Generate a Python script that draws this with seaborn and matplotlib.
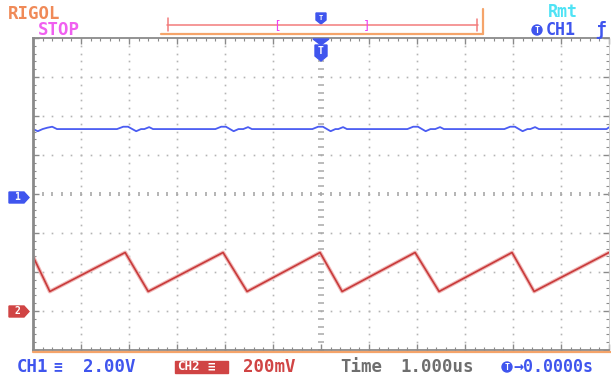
import numpy as np
import pandas as pd
import matplotlib
matplotlib.use("Agg")
import matplotlib.pyplot as plt
from matplotlib.patches import Polygon, Rectangle, Circle
import seaborn as sns

# CH1: flat level with small glitches at CH2 transitions (time in us, volts)
ch1_t = [-6.0, -5.9, -5.8, -5.7, -5.6, -5.5,
         -4.25, -4.12, -4.02, -3.85, -3.75, -3.68, -3.58, -3.5,
         -2.2, -2.08, -1.98, -1.82, -1.72, -1.62, -1.52, -1.44,
         -0.18, -0.06, 0.04, 0.2, 0.3, 0.36, 0.46, 0.54,
         1.8, 1.92, 2.02, 2.18, 2.28, 2.38, 2.48, 2.56,
         3.82, 3.94, 4.04, 4.2, 4.3, 4.36, 4.46, 4.54,
         5.95, 6.0]
ch1_v = [3.33, 3.22, 3.33, 3.40, 3.45, 3.33,
         3.33, 3.45, 3.45, 3.22, 3.33, 3.33, 3.43, 3.33,
         3.33, 3.45, 3.45, 3.22, 3.33, 3.33, 3.43, 3.33,
         3.33, 3.45, 3.45, 3.22, 3.33, 3.33, 3.43, 3.33,
         3.33, 3.45, 3.45, 3.22, 3.33, 3.33, 3.43, 3.33,
         3.33, 3.45, 3.45, 3.22, 3.33, 3.33, 3.43, 3.33,
         3.33, 3.42]
# CH2: sawtooth (time in us, volts)
ch2_t = [-6.0, -5.65, -4.08, -3.60, -2.04, -1.54, -0.02, 0.44, 1.96, 2.46, 3.98, 4.44, 6.0]
ch2_v = [0.28, 0.10, 0.30, 0.10, 0.30, 0.10, 0.30, 0.10, 0.30, 0.10, 0.30, 0.10, 0.30]

ch1_scale, ch1_offset = 2.0, 0.0     # V/div, div
ch2_scale, ch2_offset = 0.2, -3.0

# labels
brand, state, remote = "RIGOL", "STOP", "Rmt"
trig_src = "CH1"
ch1_label, ch1_volts = "CH1", "2.00V"
ch2_label, ch2_volts = "CH2", "200mV"
time_label, time_base = "Time", "1.000us"
trig_pos = "→0.0000s"

# ---------------- figure ----------------
sns.set_style("white")
plt.rcParams['font.family'] = ['DejaVu Sans Mono', 'DejaVu Sans']
W, H = 611, 379
fig = plt.figure(figsize=(W / 100, H / 100), dpi=100)
fig.patch.set_facecolor("white")

L, R, T, B = 33, 609, 38, 350
ax = fig.add_axes([L / W, 1 - B / H, (R - L) / W, (B - T) / H])
ax.set_xlim(-6, 6)
ax.set_ylim(-4, 4)
ax.set_facecolor("white")

# graticule dots
gcol = "#b4b4b4"
ys = np.arange(-4, 4.001, 0.2)
xs = np.arange(-6, 6.001, 0.2)
for gx in range(-5, 6):
    if gx == 0:
        continue
    ax.plot(np.full_like(ys, gx), ys, ls="none", marker="s", ms=1.2, color=gcol, mew=0)
for gy in range(-3, 4):
    if gy == 0:
        continue
    ax.plot(xs, np.full_like(xs, gy), ls="none", marker="s", ms=1.2, color=gcol, mew=0)
ax.plot(np.zeros_like(ys), ys, ls="none", marker="_", ms=4, color="#a8a8a8", mew=1.1)
ax.plot(xs, np.zeros_like(xs), ls="none", marker="|", ms=3.5, color="#a8a8a8", mew=1.2)

# traces
df1 = pd.DataFrame({"t": ch1_t, "div": np.array(ch1_v) / ch1_scale + ch1_offset})
df2 = pd.DataFrame({"t": ch2_t, "div": np.array(ch2_v) / ch2_scale + ch2_offset})
sns.lineplot(data=df2, x="t", y="div", sort=False, estimator=None, ax=ax,
             color="#f0b8b8", lw=2.8)
sns.lineplot(data=df2, x="t", y="div", sort=False, estimator=None, ax=ax,
             color="#c83a3a", lw=1.2)
sns.lineplot(data=df1, x="t", y="div", sort=False, estimator=None, ax=ax,
             color="#4a5cf2", lw=1.3)

ax.set_xlabel("")
ax.set_ylabel("")
ax.set_xticks(range(-6, 7))
ax.set_yticks(range(-4, 5))
ax.set_xticks(np.arange(-6, 6.001, 0.2), minor=True)
ax.set_yticks(np.arange(-4, 4.001, 0.2), minor=True)
ax.tick_params(which="both", direction="in", top=True, right=True, bottom=True, left=True,
               labelbottom=False, labelleft=False, color="#8a8a8a")
ax.tick_params(which="major", length=4, width=1)
ax.tick_params(which="minor", length=2, width=0.8)
for s in ["left", "top", "bottom"]:
    ax.spines[s].set_color("#8a8a8a")
    ax.spines[s].set_linewidth(1.3)
ax.spines["left"].set_linewidth(2.0)
ax.spines["right"].set_color("#c8c8c8")
ax.spines["right"].set_linewidth(0.6)

# ---------------- overlay (pixel coords) ----------------
ov = fig.add_axes([0, 0, 1, 1])
ov.set_xlim(0, W)
ov.set_ylim(H, 0)
ov.axis("off")
ov.patch.set_alpha(0)

blue = "#3f55ee"
fs = 12.5
ov.text(8, 14, brand, color="#f08a58", fontsize=fs, fontweight="bold", va="center", ha="left")
ov.text(38, 30, state, color="#f060f0", fontsize=fs, fontweight="bold", va="center", ha="left")
ov.text(548, 12, remote, color="#4fe3f5", fontsize=fs - 0.5, fontweight="bold", va="center", ha="left")
ov.add_patch(Circle((537, 30), 5, color=blue))
ov.text(537, 30.5, "T", color="white", fontsize=6, fontweight="bold", va="center", ha="center")
ov.text(546, 30, trig_src, color=blue, fontsize=fs - 0.5, fontweight="bold", va="center", ha="left")
ov.text(600, 30, "ƒ", color=blue, fontsize=fs, fontweight="bold", va="center", ha="center")

# memory / trigger bar
ov.plot([167, 478], [25, 25], color="#f27c7c", lw=1.1)
ov.plot([168, 168], [18, 31], color="#f27c7c", lw=1.1)
ov.plot([477, 477], [19, 31], color="#f27c7c", lw=1.1)
ov.plot([161, 483], [34, 34], color="#f5a46a", lw=1.6)
ov.plot([483, 483], [9, 34], color="#f5a46a", lw=1.6)
ov.text(277, 26, "[", color="#f040f0", fontsize=9, va="center", ha="center")
ov.text(367, 26, "]", color="#f040f0", fontsize=9, va="center", ha="center")
ov.add_patch(Polygon([(316, 13), (326, 13), (326, 20), (321, 24), (316, 20)], color=blue))
ov.text(321, 17.5, "T", color="white", fontsize=5, fontweight="bold", va="center", ha="center")
ov.add_patch(Polygon([(313, 39), (329, 39), (321, 45)], color=blue))
ov.add_patch(Polygon([(315, 45), (327, 45), (327, 56), (321, 61), (315, 56)], color=blue))
ov.text(321, 51, "T", color="white", fontsize=7, fontweight="bold", va="center", ha="center")

# channel ground markers
ov.add_patch(Polygon([(9, 192), (24, 192), (29, 197.5), (24, 203), (9, 203)], color=blue))
ov.text(17, 197.5, "1", color="white", fontsize=7, fontweight="bold", va="center", ha="center")
ov.add_patch(Polygon([(9, 306), (24, 306), (29, 311.5), (24, 317), (9, 317)], color="#d04444"))
ov.text(17, 311.5, "2", color="white", fontsize=7, fontweight="bold", va="center", ha="center")

# bottom status line
ov.plot([33, 611], [352, 352], color="#f5a46a", lw=1.6)
yb = 367
ov.text(17, yb, ch1_label, color=blue, fontsize=fs, fontweight="bold", va="center", ha="left")
ov.text(53, yb, "≡", color=blue, fontsize=fs - 2, fontweight="bold", va="center", ha="left")
ov.text(83, yb, ch1_volts, color=blue, fontsize=fs, fontweight="bold", va="center", ha="left")
ov.add_patch(Rectangle((175, 361), 53, 12, color="#d04444"))
ov.text(177, yb, ch2_label, color="white", fontsize=9, fontweight="bold", va="center", ha="left")
ov.text(207, yb, "≡", color="white", fontsize=9, fontweight="bold", va="center", ha="left")
ov.text(243, yb, ch2_volts, color="#d04444", fontsize=fs, fontweight="bold", va="center", ha="left")
ov.text(340, yb, time_label, color="#6e6e6e", fontsize=fs, fontweight="bold", va="center", ha="left")
ov.text(400, yb, time_base, color="#6e6e6e", fontsize=fs, fontweight="bold", va="center", ha="left")
ov.add_patch(Circle((507, 367), 5, color=blue))
ov.text(507, 367.5, "T", color="white", fontsize=6, fontweight="bold", va="center", ha="center")
ov.text(513, yb, trig_pos, color=blue, fontsize=fs - 0.5, fontweight="bold", va="center", ha="left")

fig.savefig("out.png", dpi=100, facecolor="white")
